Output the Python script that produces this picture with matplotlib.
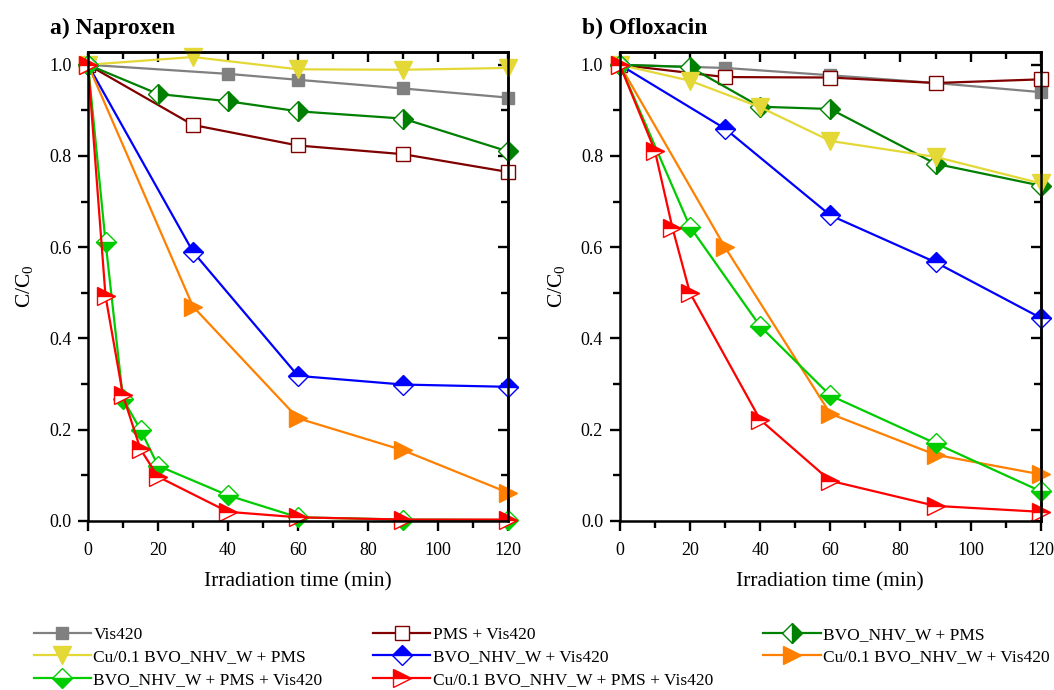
import matplotlib
matplotlib.use("Agg")
import matplotlib.pyplot as plt
from matplotlib.ticker import MultipleLocator

plt.rcParams["font.family"] = ["Liberation Serif", "DejaVu Serif"]
plt.rcParams["mathtext.fontset"] = "custom"
plt.rcParams["mathtext.rm"] = "Liberation Serif"
plt.rcParams["mathtext.it"] = "Liberation Serif:italic"

# Series labels (legend text)
labels = [
    "Vis420",
    "PMS + Vis420",
    "BVO_NHV_W + PMS",
    "Cu/0.1 BVO_NHV_W + PMS",
    "BVO_NHV_W + Vis420",
    "Cu/0.1 BVO_NHV_W + Vis420",
    "BVO_NHV_W + PMS + Vis420",
    "Cu/0.1 BVO_NHV_W + PMS + Vis420",
]

# a) Naproxen: time (min) and C/C0
nap_t_vis = [0, 40, 60, 90, 120]
nap_c_vis = [1.0, 0.980, 0.967, 0.948, 0.928]
nap_t_pms = [0, 30, 60, 90, 120]
nap_c_pms = [1.0, 0.868, 0.823, 0.804, 0.765]
nap_t_bvo_pms = [0, 20, 40, 60, 90, 120]
nap_c_bvo_pms = [1.0, 0.936, 0.920, 0.898, 0.882, 0.810]
nap_t_cu_pms = [0, 30, 60, 90, 120]
nap_c_cu_pms = [1.0, 1.017, 0.990, 0.989, 0.993]
nap_t_bvo_vis = [0, 30, 60, 90, 120]
nap_c_bvo_vis = [1.0, 0.590, 0.318, 0.299, 0.294]
nap_t_cu_vis = [0, 30, 60, 90, 120]
nap_c_cu_vis = [1.0, 0.470, 0.225, 0.155, 0.062]
nap_t_bvo_all = [0, 5, 10, 15, 20, 40, 60, 90, 120]
nap_c_bvo_all = [1.0, 0.612, 0.267, 0.200, 0.121, 0.056, 0.008, 0.003, 0.002]
nap_t_cu_all = [0, 5, 10, 15, 20, 40, 60, 90, 120]
nap_c_cu_all = [1.0, 0.493, 0.275, 0.157, 0.097, 0.020, 0.008, 0.003, 0.003]

# b) Ofloxacin: time (min) and C/C0
ofl_t_vis = [0, 30, 60, 90, 120]
ofl_c_vis = [1.0, 0.993, 0.977, 0.960, 0.940]
ofl_t_pms = [0, 30, 60, 90, 120]
ofl_c_pms = [1.0, 0.973, 0.972, 0.960, 0.968]
ofl_t_bvo_pms = [0, 20, 40, 60, 90, 120]
ofl_c_bvo_pms = [1.0, 0.995, 0.908, 0.903, 0.783, 0.735]
ofl_t_cu_pms = [0, 20, 40, 60, 90, 120]
ofl_c_cu_pms = [1.0, 0.965, 0.907, 0.833, 0.798, 0.740]
ofl_t_bvo_vis = [0, 30, 60, 90, 120]
ofl_c_bvo_vis = [1.0, 0.860, 0.670, 0.567, 0.445]
ofl_t_cu_vis = [0, 30, 60, 90, 120]
ofl_c_cu_vis = [1.0, 0.600, 0.235, 0.145, 0.102]
ofl_t_bvo_all = [0, 20, 40, 60, 90, 120]
ofl_c_bvo_all = [1.0, 0.645, 0.427, 0.275, 0.170, 0.065]
ofl_t_cu_all = [0, 10, 15, 20, 40, 60, 90, 120]
ofl_c_cu_all = [1.0, 0.812, 0.643, 0.500, 0.222, 0.088, 0.033, 0.020]

# Styles per series: colour, marker, fillstyle, marker size
styles = [
    ("#808080", "s", "full", 8),
    ("#800000", "s", "none", 9.5),
    ("#008000", "D", "right", 10),
    ("#E3D836", "v", "full", 13),
    ("#0000FF", "D", "top", 10),
    ("#FF8000", ">", "full", 13),
    ("#00CC00", "D", "bottom", 10),
    ("#FF0000", ">", "top", 13),
]

naproxen = [
    (nap_t_vis, nap_c_vis), (nap_t_pms, nap_c_pms),
    (nap_t_bvo_pms, nap_c_bvo_pms), (nap_t_cu_pms, nap_c_cu_pms),
    (nap_t_bvo_vis, nap_c_bvo_vis), (nap_t_cu_vis, nap_c_cu_vis),
    (nap_t_bvo_all, nap_c_bvo_all), (nap_t_cu_all, nap_c_cu_all),
]
ofloxacin = [
    (ofl_t_vis, ofl_c_vis), (ofl_t_pms, ofl_c_pms),
    (ofl_t_bvo_pms, ofl_c_bvo_pms), (ofl_t_cu_pms, ofl_c_cu_pms),
    (ofl_t_bvo_vis, ofl_c_bvo_vis), (ofl_t_cu_vis, ofl_c_cu_vis),
    (ofl_t_bvo_all, ofl_c_bvo_all), (ofl_t_cu_all, ofl_c_cu_all),
]

fig = plt.figure(figsize=(10.54, 6.9), dpi=100)
ax_a = fig.add_axes([0.0835, 0.245, 0.3985, 0.68])
ax_b = fig.add_axes([0.588, 0.245, 0.3995, 0.68])

handles = []
for ax, data, title in [(ax_a, naproxen, "a) Naproxen"),
                        (ax_b, ofloxacin, "b) Ofloxacin")]:
    hs = []
    for (t, c), (col, mk, fs, ms), lab in zip(data, styles, labels):
        if fs == "none":
            face = "white"
            fs_use = "full"
        else:
            face = col
            fs_use = fs
        (h,) = ax.plot(t, c, color=col, linewidth=1.6, marker=mk,
                       markersize=ms, fillstyle=fs_use,
                       markerfacecolor=face, markerfacecoloralt="white",
                       markeredgecolor=col, markeredgewidth=1.0,
                       label=lab, clip_on=False)
        hs.append(h)
    handles = hs

    ax.set_xlim(0, 120)
    ax.set_ylim(0, 1.0285)
    ax.xaxis.set_major_locator(MultipleLocator(20))
    ax.xaxis.set_minor_locator(MultipleLocator(10))
    ax.yaxis.set_major_locator(MultipleLocator(0.2))
    ax.yaxis.set_minor_locator(MultipleLocator(0.1))
    ax.yaxis.set_major_formatter(matplotlib.ticker.FormatStrFormatter("%.1f"))
    ax.tick_params(axis="both", which="both", labelsize=13, width=1.7)
    ax.tick_params(which="major", length=7)
    ax.tick_params(which="minor", length=5)
    ax.tick_params(axis="x", which="both", direction="out", top=False)
    ax.tick_params(axis="y", which="both", direction="out", right=False)
    ax.tick_params(axis="x", pad=8)
    ax.tick_params(axis="y", pad=5)
    # inward ticks on top and right
    ax_top = ax.secondary_xaxis("top")
    ax_top.xaxis.set_major_locator(MultipleLocator(20))
    ax_top.xaxis.set_minor_locator(MultipleLocator(10))
    ax_top.tick_params(which="both", direction="in", labeltop=False, width=1.7)
    ax_top.tick_params(which="major", length=7)
    ax_top.tick_params(which="minor", length=5)
    ax_right = ax.secondary_yaxis("right")
    ax_right.yaxis.set_major_locator(MultipleLocator(0.2))
    ax_right.yaxis.set_minor_locator(MultipleLocator(0.1))
    ax_right.tick_params(which="both", direction="in", labelright=False, width=1.7)
    ax_right.tick_params(which="major", length=7)
    ax_right.tick_params(which="minor", length=5)
    for sp in ax.spines.values():
        sp.set_linewidth(1.8)
    ax_top.spines["top"].set_linewidth(1.8)
    ax_right.spines["right"].set_linewidth(1.8)

    ax.set_xlabel("Irradiation time (min)", fontsize=15.5, labelpad=10)
    ax.set_ylabel("C/C$_0$", fontsize=15.5, labelpad=10)
    ax.set_title(title, fontsize=17, fontweight="bold", loc="left",
                 x=-0.09, y=1.02)

# Legend: matplotlib fills columns first, so reorder to row-wise reading
order = [0, 3, 6, 1, 4, 7, 2, 5]
fig.legend([handles[i] for i in order], [labels[i] for i in order],
           loc="lower left", bbox_to_anchor=(0.017, -0.02), ncol=3,
           frameon=False, fontsize=12.5, handlelength=3.3,
           columnspacing=2.9, labelspacing=0.38, handletextpad=0.15)

fig.savefig("out.png", dpi=100)
